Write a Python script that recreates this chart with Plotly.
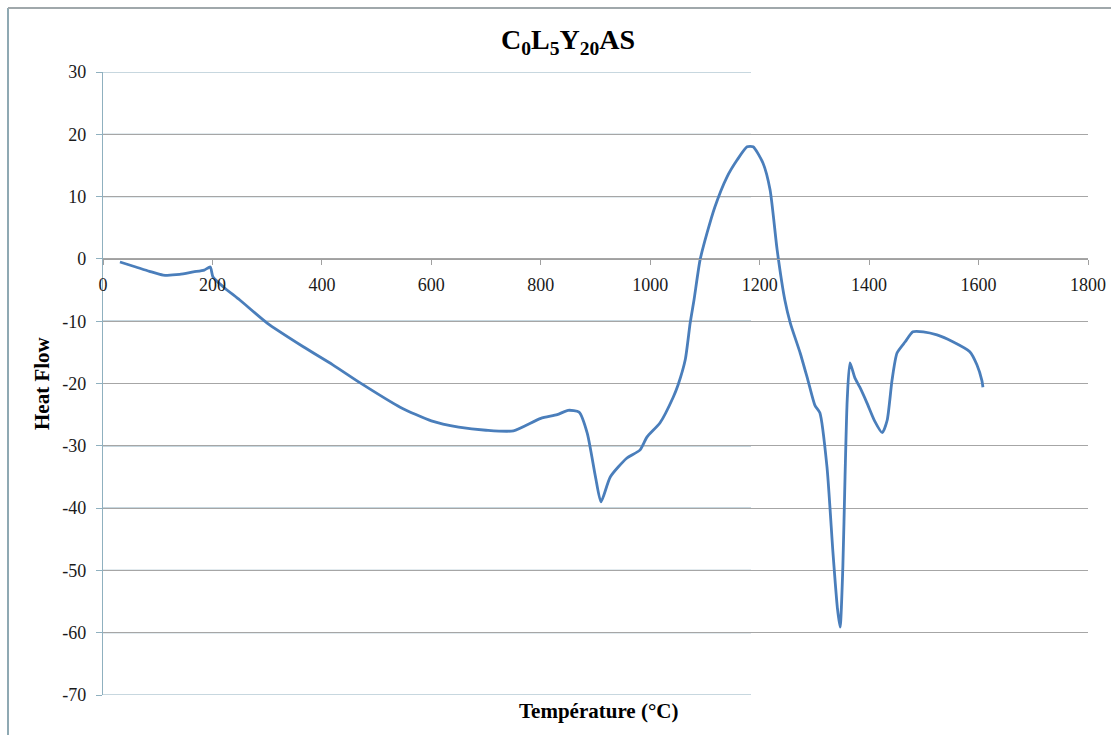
import plotly.graph_objects as go

temperature = [31, 60, 85, 110, 140, 165, 185, 196, 201, 220, 250, 300, 366, 420, 470, 543, 600, 650,
               700, 750, 800, 830, 850, 870, 885, 900, 910, 927, 957, 981, 994, 1018, 1042, 1051,
               1064, 1073, 1080, 1091, 1104, 1118, 1140, 1159, 1177, 1188, 1206, 1219, 1232, 1246,
               1256, 1274, 1288, 1301, 1310, 1323, 1334, 1342, 1347, 1352, 1356, 1360, 1365, 1374,
               1383, 1396, 1410, 1424, 1433, 1442, 1451, 1466, 1480, 1499, 1524, 1553, 1584, 1597,
               1606, 1608]
heat_flow = [-0.5, -1.3, -2.0, -2.6, -2.5, -2.1, -1.8, -1.3, -2.9, -4.5, -6.6, -10.3, -14.1, -17.0,
             -19.9, -23.8, -26.0, -27.0, -27.5, -27.6, -25.6, -25.0, -24.3, -24.6, -28.0, -35.0,
             -39.0, -35.0, -32.0, -30.7, -28.6, -26.3, -22.2, -20.2, -16.2, -10.3, -6.6, -0.2, 4.2,
             8.3, 13.1, 15.9, 18.0, 18.0, 15.4, 11.1, 1.4, -6.6, -10.3, -15.1, -19.4, -23.5, -24.7,
             -33.4, -47.2, -56.0, -59.1, -49.5, -35.0, -22.6, -16.7, -19.1, -20.6, -23.1, -26.0,
             -27.9, -25.9, -19.4, -15.1, -13.3, -11.7, -11.7, -12.2, -13.3, -14.9, -17.0, -19.5, -20.6]

x_ticks = [0, 200, 400, 600, 800, 1000, 1200, 1400, 1600, 1800]
y_ticks = [30, 20, 10, 0, -10, -20, -30, -40, -50, -60, -70]

W, H = 1111, 735
L, R, T, B = 103, 23, 72, 40
pw, ph = W - L - R, H - T - B

def px_x(p):
    return (p - L) / pw

def px_y(p):
    return (H - B - p) / ph

fig = go.Figure()
fig.add_trace(go.Scatter(x=temperature, y=heat_flow, mode="lines",
                         line=dict(color="#4a7ebb", width=2.8, shape="spline", smoothing=0.6),
                         showlegend=False, hoverinfo="skip"))

shapes = []
# coloured left portion of gridlines
split = px_x(751)
for v in y_ticks:
    shapes.append(dict(type="line", xref="paper", yref="y", x0=0, x1=split, y0=v, y1=v,
                       line=dict(color="#8fb0bf", width=1.2), layer="below"))
# outer frame
shapes.append(dict(type="line", xref="paper", yref="paper", x0=px_x(8), x1=px_x(8), y0=px_y(8), y1=px_y(740),
                   line=dict(color="#8fa9b3", width=2)))
shapes.append(dict(type="line", xref="paper", yref="paper", x0=px_x(8), x1=px_x(1115), y0=px_y(8), y1=px_y(8),
                   line=dict(color="#a0a8ab", width=2)))

font_serif = "Liberation Serif"
tick_font = dict(family=font_serif, size=18, color="#1a1a1a")

fig.update_layout(
    width=W, height=H,
    margin=dict(l=L, r=R, t=T, b=B, autoexpand=False),
    paper_bgcolor="white", plot_bgcolor="white",
    font=dict(family=font_serif, size=18, color="#1a1a1a"),
    shapes=shapes,
    annotations=[
        dict(text="<b>C<sub>0</sub>L<sub>5</sub>Y<sub>20</sub>AS</b>", xref="paper", yref="paper",
             x=px_x(568), y=px_y(41), showarrow=False,
             font=dict(family=font_serif, size=28, color="black"),
             xanchor="center", yanchor="middle"),
        dict(text="<b>Heat Flow</b>", xref="paper", yref="paper", x=px_x(42), y=px_y(383),
             textangle=-90, showarrow=False, font=dict(family=font_serif, size=21, color="black"),
             xanchor="center", yanchor="middle"),
        dict(text="<b>Température (°C)</b>", xref="paper", yref="paper", x=px_x(598), y=px_y(711),
             showarrow=False, font=dict(family=font_serif, size=21, color="black"),
             xanchor="center", yanchor="middle"),
    ],
    xaxis=dict(range=[0, 1800], tickmode="array", tickvals=x_ticks, ticktext=[str(v) for v in x_ticks],
               anchor="free", position=0.7, showgrid=False, zeroline=False,
               showline=True, linecolor="#a0a0a0", linewidth=1.2,
               ticks="outside", ticklen=5, tickcolor="#a0a0a0", tickfont=tick_font,
               ticklabelstandoff=4, fixedrange=True),
    yaxis=dict(range=[-70, 30], tickmode="array", tickvals=y_ticks, ticktext=[str(v) for v in y_ticks],
               showgrid=True, gridcolor="#a6a6a6", gridwidth=1.2, zeroline=False,
               showline=True, linecolor="#8fb0bf", linewidth=1.2,
               ticks="outside", ticklen=6, tickcolor="#8fb0bf", tickfont=tick_font,
               ticklabelstandoff=6, fixedrange=True),
)

fig.write_html("out.html", config={"displayModeBar": False},
               post_script="document.body.style.margin='0';document.body.style.overflow='hidden';")
